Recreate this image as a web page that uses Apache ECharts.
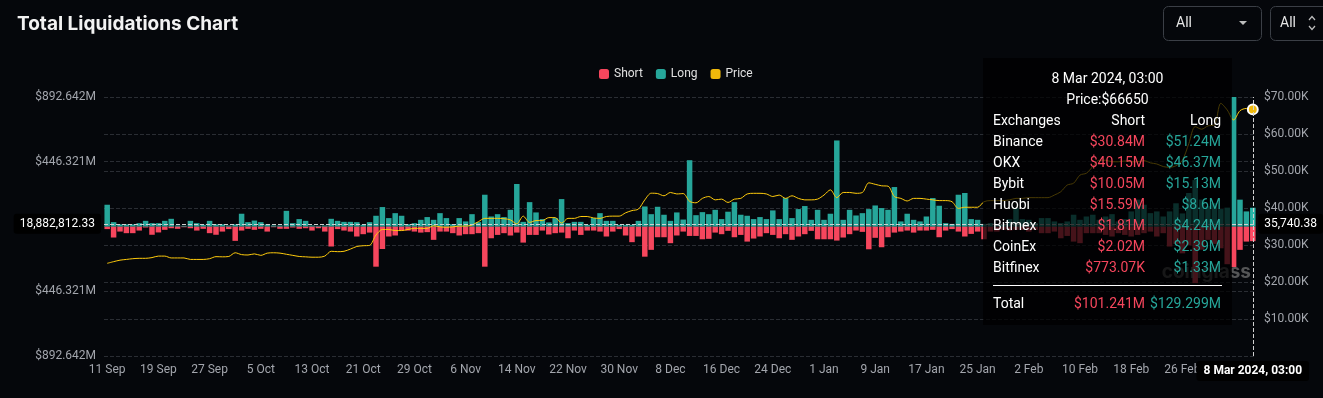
<!DOCTYPE html>
<html>
<head>
<meta charset="utf-8">
<script src="https://cdn.jsdelivr.net/npm/echarts@6/dist/echarts.min.js"></script>
<style>
  html, body { margin: 0; padding: 0; background: #05070b; }
  #chart { width: 1323px; height: 398px; }
</style>
</head>
<body>
<div id="chart"></div>
<script>
// daily liquidations, $M (long above zero, short below)
const longM = [
  150, 30, 15, 15, 15, 23, 39, 23, 23, 39,
  53, 7, 5, 39, 23, 12, 39, 15, 15, 7,
  15, 88, 30, 41, 30, 15, 7, 7, 108, 23,
  51, 39, 7, 5, 7, 53, 39, 32, 32, 30,
  12, 30, 74, 134, 58, 92, 74, 16, 23, 46,
  65, 46, 92, 58, 16, 58, 35, 85, 30, 219,
  69, 85, 65, 115, 293, 32, 168, 97, 51, 28,
  58, 189, 23, 32, 32, 12, 58, 92, 39, 39,
  12, 12, 12, 39, 138, 85, 136, 81, 39, 97,
  48, 457, 78, 99, 85, 115, 51, 102, 168, 81,
  74, 51, 65, 51, 111, 51, 196, 58, 120, 141,
  46, 115, 46, 88, 593, 46, 115, 76, 92, 120,
  145, 127, 115, 272, 35, 88, 46, 35, 69, 196,
  143, 23, 18, 219, 231, 51, 46, 18, 23, 18,
  12, 51, 127, 51, 46, 23, 58, 58, 35, 23,
  35, 81, 46, 69, 81, 46, 69, 85, 35, 51,
  104, 185, 150, 92, 104, 69, 104, 160, 90, 231,
  320, 185, 140, 161, 120, 130, 892.642, 185, 104, 129.299
];
const shortM = [
  18, 76, 35, 46, 46, 28, 7, 57, 41, 23,
  12, 16, 5, 12, 28, 16, 46, 57, 35, 18,
  99, 28, 16, 23, 16, 35, 5, 16, 16, 7,
  16, 12, 28, 12, 35, 138, 18, 28, 35, 69,
  53, 42, 277, 155, 69, 62, 28, 28, 35, 42,
  39, 92, 35, 35, 46, 62, 53, 53, 46, 277,
  81, 58, 46, 62, 42, 111, 58, 58, 28, 55,
  46, 42, 81, 28, 58, 28, 28, 35, 69, 35,
  18, 62, 108, 69, 208, 161, 74, 74, 115, 62,
  35, 65, 65, 88, 85, 42, 53, 30, 74, 58,
  104, 83, 69, 46, 58, 81, 53, 92, 69, 53,
  30, 88, 88, 88, 97, 76, 53, 28, 37, 157,
  78, 143, 74, 42, 35, 28, 42, 28, 28, 23,
  74, 28, 18, 35, 69, 51, 35, 88, 35, 35,
  23, 28, 23, 23, 35, 23, 46, 46, 35, 81,
  65, 104, 115, 46, 46, 46, 58, 69, 46, 58,
  69, 58, 46, 35, 69, 46, 138, 120, 185, 130,
  390, 160, 92, 120, 150, 260, 280, 161, 104, 101.241
];
// BTC price, $K
const priceK = [
  25.05, 25.5, 25.9, 26.1, 26.3, 26.4, 26.4, 26.6, 27.0, 27.0,
  26.5, 26.5, 26.5, 26.1, 26.1, 26.1, 26.3, 26.85, 26.8, 26.9,
  27.9, 27.4, 27.3, 27.6, 27.2, 27.8, 27.9, 27.8, 27.5, 27.2,
  26.9, 26.8, 26.7, 26.7, 27.0, 28.3, 28.2, 28.3, 28.9, 29.6,
  29.8, 29.9, 32.7, 34.2, 34.2, 33.9, 33.9, 34.2, 34.5, 34.5,
  34.5, 35.2, 34.9, 34.8, 34.9, 35.1, 35.1, 35.4, 36.3, 37.2,
  37.2, 37.2, 37.1, 36.8, 35.7, 37.8, 36.1, 36.6, 36.6, 37.4,
  37.4, 35.9, 37.2, 37.2, 37.7, 37.7, 37.3, 37.2, 37.7, 37.8,
  37.8, 38.7, 39.3, 39.7, 42.2, 44.0, 43.9, 43.3, 44.2, 43.8,
  43.9, 41.8, 41.4, 42.6, 43.1, 42.2, 42.4, 41.5, 42.4, 42.6,
  43.8, 43.97, 43.97, 43.8, 43.1, 43.5, 42.6, 43.3, 42.6, 42.2,
  42.2, 42.4, 43.5, 44.9, 42.8, 44.2, 44.2, 43.97, 44.2, 46.8,
  46.4, 46.0, 45.9, 43.1, 42.6, 41.9, 42.6, 42.6, 42.4, 42.2,
  42.0, 42.0, 41.7, 39.9, 40.2, 40.2, 40.2, 41.7, 42.0, 42.0,
  42.0, 42.2, 42.6, 42.6, 42.8, 42.8, 42.8, 42.8, 43.5, 44.4,
  46.2, 46.7, 48.9, 49.4, 51.2, 52.9, 52.9, 52.5, 52.5, 52.7,
  52.5, 52.5, 52.8, 52.2, 51.9, 51.2, 51.0, 51.4, 52.9, 57.4,
  62.0, 61.3, 62.2, 62.4, 68.3, 66.5, 63.8, 66.3, 66.9, 66.65
];

// per-exchange breakdown for the hovered day ($M)
const exchanges = ["Binance", "OKX", "Bybit", "Huobi", "Bitmex", "CoinEx", "Bitfinex"];
const exShortM = [30.84, 40.15, 10.05, 15.59, 1.81, 2.02, 0.77307];
const exLongM = [51.24, 46.37, 15.13, 8.6, 4.24, 2.39, 1.33];

const pointerLeft = 18.88281233; // $M, where the cursor sits
const hoverIndex = 179;

const MONTHS = ["Jan", "Feb", "Mar", "Apr", "May", "Jun", "Jul", "Aug", "Sep", "Oct", "Nov", "Dec"];
const categories = [];
for (let i = 0; i < longM.length; i++) {
  const d = new Date(Date.UTC(2023, 8, 11 + i));
  categories.push(d.getUTCDate() + " " + MONTHS[d.getUTCMonth()] + " " + d.getUTCFullYear() + ", 03:00");
}

const RED = "#f6465d";
const TEAL = "#26a69a";
const YELLOW = "#f0b90b";
const GRID = "#2a2d33";
const LABEL = "#a3a6ad";
const FONT = "Roboto";

function fmtEx(v) {
  return v >= 1 ? "$" + +v.toFixed(2) + "M" : "$" + +(v * 1000).toFixed(2) + "K";
}

function row(a, b, c, cb, cc) {
  return '<div style="display:flex;height:21px;line-height:21px">' +
    '<span style="width:80px">' + a + "</span>" +
    '<span style="width:72px;text-align:right;color:' + cb + '">' + b + "</span>" +
    '<span style="width:76px;text-align:right;color:' + cc + '">' + c + "</span></div>";
}

const chart = echarts.init(document.getElementById("chart"));

chart.setOption({
  animation: false,
  backgroundColor: "#05070b",
  textStyle: { fontFamily: FONT },
  title: {
    text: "Total Liquidations Chart",
    left: 12,
    top: 10,
    textStyle: { color: "#f2f2f2", fontSize: 19, fontWeight: "bold", fontFamily: "Inter" },
  },
  legend: {
    data: ["Short", "Long", { name: "Price", itemStyle: { borderWidth: 0 } }],
    left: 594,
    top: 63,
    icon: "roundRect",
    itemWidth: 10,
    itemHeight: 10,
    itemGap: 13,
    textStyle: { color: "#e0e0e0", fontSize: 12, fontFamily: FONT },
  },
  grid: { left: 104, right: 67, top: 97, bottom: 42 },
  tooltip: {
    trigger: "axis",
    alwaysShowContent: true,
    transitionDuration: 0,
    position: [983, 58],
    backgroundColor: "rgba(0,0,0,0.72)",
    borderWidth: 0,
    padding: [10, 10],
    textStyle: { color: "#fff", fontSize: 14, fontFamily: FONT },
    extraCssText: "width:249px;height:267px;box-sizing:border-box;border-radius:0;box-shadow:none;line-height:21px;",
    axisPointer: {
      type: "cross",
      crossStyle: { color: "#d0d0d0", type: "dashed", width: 1 },
      lineStyle: { color: "#d0d0d0", type: "dashed", width: 1 },
    },
    formatter: function (params) {
      const i = params[0].dataIndex;
      let h = '<div style="text-align:center">' + categories[i] + "</div>";
      h += '<div style="text-align:center">Price:$' + Math.round(priceK[i] * 1000) + "</div>";
      h += row("Exchanges", "Short", "Long", "#fff", "#fff");
      exchanges.forEach(function (e, k) {
        h += row(e, fmtEx(exShortM[k]), fmtEx(exLongM[k]), RED, TEAL);
      });
      h += '<div style="border-top:1px solid #fff;margin:7px 0"></div>';
      h += row("Total", "$" + shortM[i].toFixed(3) + "M", "$" + longM[i].toFixed(3) + "M", RED, TEAL);
      return h;
    },
  },
  xAxis: {
    type: "category",
    data: categories,
    boundaryGap: true,
    axisLine: { show: false, onZero: false },
    axisTick: { show: false },
    splitLine: { show: false },
    axisLabel: {
      interval: 7,
      color: LABEL,
      fontSize: 12,
      margin: 8,
      formatter: (v) => v.split(" ").slice(0, 2).join(" "),
    },
    axisPointer: {
      label: {
        backgroundColor: "#000",
        color: "#fff",
        fontSize: 12,
        fontWeight: "bold",
        padding: [4, 7],
        margin: 5,
      },
    },
  },
  yAxis: [
    {
      type: "value",
      position: "left",
      min: -892.642,
      max: 892.642,
      interval: 446.321,
      axisLine: { show: false },
      axisTick: { show: false },
      splitLine: { lineStyle: { color: GRID, type: "dashed" } },
      axisLabel: {
        color: LABEL,
        fontSize: 12,
        formatter: (v) => (Math.abs(v) < 1e-6 ? "$0" : "$" + Math.abs(v).toFixed(3) + "M"),
      },
      axisPointer: {
        label: {
          backgroundColor: "#000",
          color: "#fff",
          fontSize: 12,
          padding: [4, 6],
          formatter: (p) =>
            (p.value * 1e6).toLocaleString("en-US", { minimumFractionDigits: 2, maximumFractionDigits: 2 }),
        },
      },
    },
    {
      type: "value",
      position: "right",
      min: 0,
      max: 70,
      interval: 10,
      axisLine: { show: false },
      axisTick: { show: false },
      splitLine: { lineStyle: { color: GRID, type: "dashed" } },
      axisLabel: {
        color: LABEL,
        fontSize: 12,
        showMinLabel: false,
        formatter: (v) => "$" + v.toFixed(2) + "K",
      },
      axisPointer: {
        label: {
          backgroundColor: "#000",
          color: "#fff",
          fontSize: 12,
          padding: [4, 6],
          formatter: (p) =>
            (p.value * 1000).toLocaleString("en-US", { minimumFractionDigits: 2, maximumFractionDigits: 2 }),
        },
      },
    },
  ],
  graphic: [
    { type: "rect", shape: { x: 1163.5, y: 6.5, width: 98, height: 34, r: 5 }, style: { fill: "transparent", stroke: "#3b3f46", lineWidth: 1 } },
    { type: "text", x: 1176, y: 23, style: { text: "All", fill: "#e6e6e6", font: "14px Roboto", verticalAlign: "middle" } },
    { type: "polygon", shape: { points: [[1239, 21], [1247, 21], [1243, 25]] }, style: { fill: "#bdbdbd" } },
    { type: "rect", shape: { x: 1270.5, y: 6.5, width: 70, height: 34, r: 5 }, style: { fill: "transparent", stroke: "#3b3f46", lineWidth: 1 } },
    { type: "text", x: 1280, y: 23, style: { text: "All", fill: "#e6e6e6", font: "14px Roboto", verticalAlign: "middle" } },
    { type: "polyline", shape: { points: [[1309, 20], [1312, 16.5], [1315, 20]] }, style: { stroke: "#bdbdbd", lineWidth: 1.2, fill: null } },
    { type: "polyline", shape: { points: [[1309, 26], [1312, 29.5], [1315, 26]] }, style: { stroke: "#bdbdbd", lineWidth: 1.2, fill: null } },
    { type: "text", x: 1251, y: 272, z: 50, style: { text: "coinglass", fill: "rgba(150,150,150,0.55)", font: "bold 19px Inter", align: "right", verticalAlign: "middle" } },
  ],
  series: [
    {
      name: "Short",
      type: "bar",
      stack: "liq",
      yAxisIndex: 0,
      barCategoryGap: "14%",
      itemStyle: { color: RED },
      data: shortM.map((v) => -v),
    },
    {
      name: "Long",
      type: "bar",
      stack: "liq",
      yAxisIndex: 0,
      barCategoryGap: "14%",
      itemStyle: { color: TEAL },
      data: longM,
    },
    {
      name: "Price",
      type: "line",
      yAxisIndex: 1,
      smooth: 0.3,
      showSymbol: false,
      symbol: "circle",
      symbolSize: 9,
      itemStyle: { color: YELLOW, borderColor: "#fff", borderWidth: 2 },
      lineStyle: { color: YELLOW, width: 1 },
      data: priceK,
    },
  ],
});

const px = chart.convertToPixel({ xAxisIndex: 0 }, categories[hoverIndex]);
const py = chart.convertToPixel({ yAxisIndex: 0 }, pointerLeft);
chart.dispatchAction({ type: "showTip", x: px, y: py });
</script>
</body>
</html>
